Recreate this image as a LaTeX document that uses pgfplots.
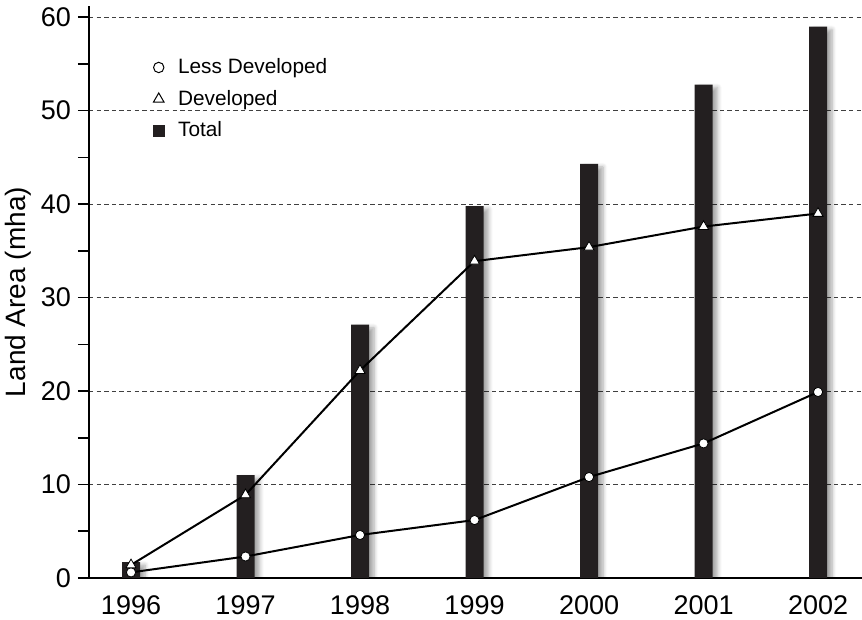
\documentclass[border=0pt]{standalone}
\usepackage{fontspec}
\setmainfont{Liberation Sans}
\usepackage{pgfplots}
\pgfplotsset{compat=1.18}
\usetikzlibrary{shadows.blur}

\definecolor{barblack}{HTML}{231F20}

\begin{document}
\begin{tikzpicture}
\begin{axis}[
    scale only axis,
    width=386.5pt, height=286pt,
    xmin=-0.367, xmax=6.384,
    ymin=0, ymax=61.2,
    axis lines*=left,
    axis line style={line width=0.8pt, black},
    xtick={0,...,6},
    xticklabels={1996,1997,1998,1999,2000,2001,2002},
    x tick style={draw=none},
    ytick={0,10,...,60},
    minor ytick={5,15,...,55},
    tick align=outside,
    major tick length=5.5pt, minor tick length=5.5pt,
    y tick style={line width=0.8pt, black},
    ymajorgrids,
    grid style={dashed, black!75, line width=0.5pt, dash pattern=on 2.2pt off 1.6pt},
    ticklabel style={font=\fontsize{13.5}{15}\selectfont},
    /pgf/number format/assume math mode=true,
    ylabel={Land Area (mha)},
    ylabel style={font=\fontsize{14}{16}\selectfont, yshift=-2pt},
    legend style={draw=none, fill=none, at={(0.075,0.923)}, anchor=north west,
        font=\fontsize{10.4}{12}\selectfont, row sep=2.8pt,
        /tikz/every odd column/.append style={column sep=5pt}},
    legend cell align=left,
    legend image code/.code={\draw[#1] plot coordinates {(0.1cm,0cm)};},
]
% total bars
\addplot[ybar, bar width=9pt, fill=barblack, draw=none,
    blur shadow={shadow xshift=2.5pt, shadow yshift=-1.5pt, shadow blur steps=6, shadow opacity=35},
    forget plot] coordinates {
(0,1.7) (1,11.0) (2,27.1) (3,39.8) (4,44.3) (5,52.8) (6,59.0)
};
% less developed
\addplot[black, line width=1pt, mark=*, mark size=2.3pt,
    mark options={fill=white, draw=black, line width=0.4pt}, forget plot] coordinates {
(0,0.6) (1,2.3) (2,4.6) (3,6.2) (4,10.8) (5,14.4) (6,19.9)
};
% developed
\addplot[black, line width=1pt, mark=triangle*, mark size=2.9pt,
    mark options={fill=white, draw=black, line width=0.4pt}, forget plot] coordinates {
(0,1.4) (1,8.9) (2,22.2) (3,33.9) (4,35.4) (5,37.6) (6,39.0)
};
\addlegendimage{only marks, mark=*, mark size=2.6pt, mark options={fill=white, draw=black, line width=0.5pt}}
\addlegendentry{Less Developed}
\addlegendimage{only marks, mark=triangle*, mark size=3.1pt, mark options={fill=white, draw=black, line width=0.5pt}}
\addlegendentry{Developed}
\addlegendimage{only marks, mark=square*, mark size=2.6pt, mark options={fill=barblack, draw=barblack}}
\addlegendentry{Total}
\end{axis}
\pgfresetboundingbox
\path[use as bounding box] (-44.5pt,-21pt) rectangle (386.5pt,289pt);
\end{tikzpicture}
\end{document}
